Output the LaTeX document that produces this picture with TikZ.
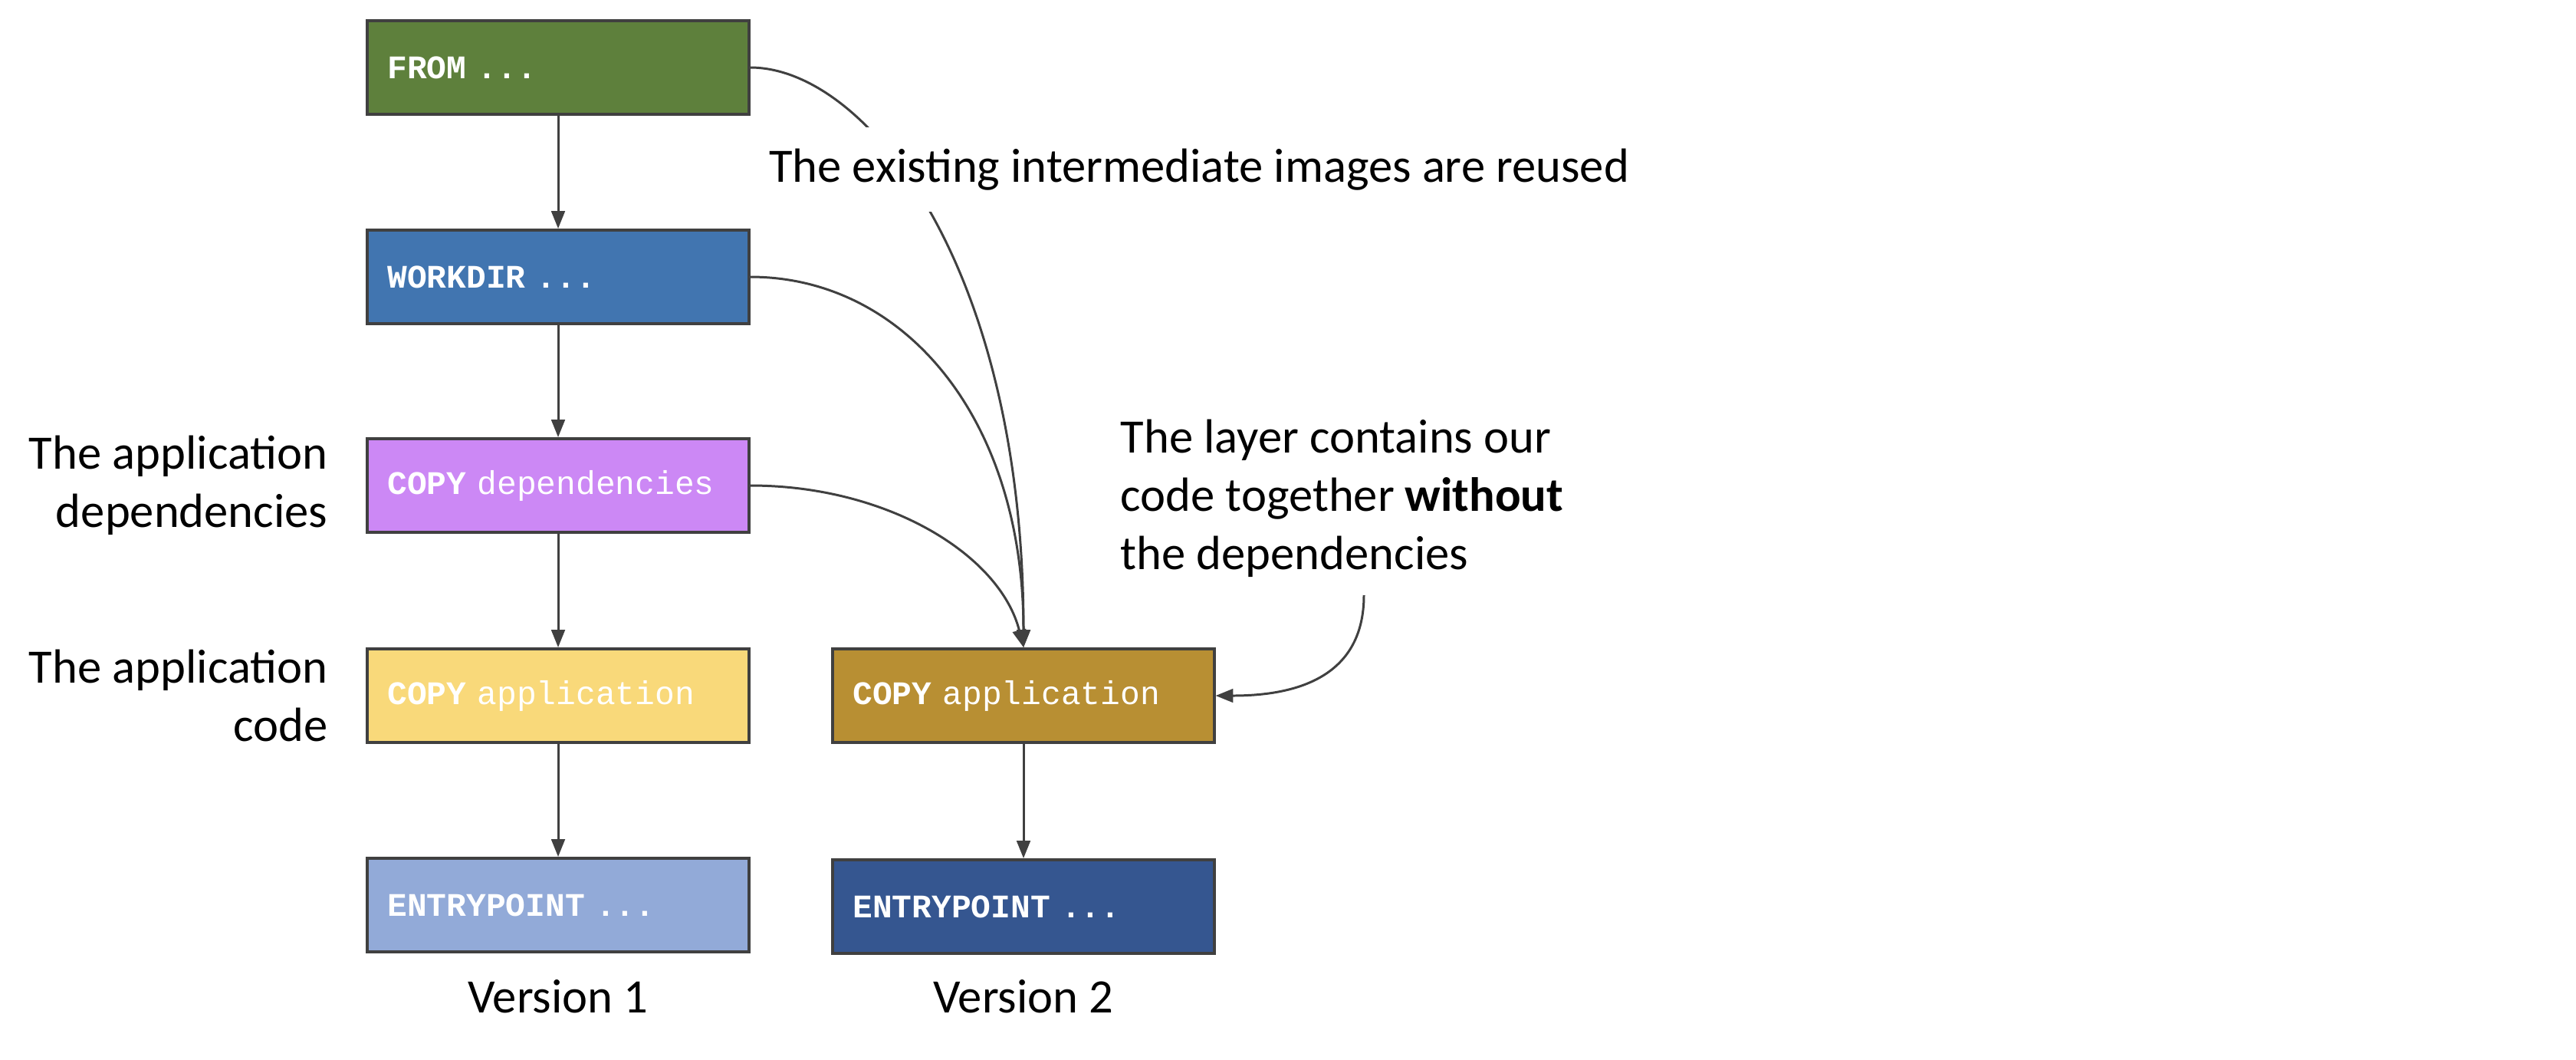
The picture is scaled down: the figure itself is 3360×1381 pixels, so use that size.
\documentclass[tikz,border=0pt]{standalone}
\usepackage{fontspec}
\setmainfont{Carlito}
\setmonofont{Liberation Mono}
\usetikzlibrary{arrows.meta}
\definecolor{linegray}{HTML}{404040}
\definecolor{cfrom}{HTML}{5E803C}
\definecolor{cwork}{HTML}{4175B0}
\definecolor{cdep}{HTML}{CC88F5}
\definecolor{capp}{HTML}{F9D97A}
\definecolor{centry}{HTML}{92AAD8}
\definecolor{capptwo}{HTML}{B88F33}
\definecolor{centrytwo}{HTML}{355690}
\tikzset{
  layerbox/.style={rectangle, draw=linegray, line width=1.1pt, text=white,
    font=\ttfamily\fontsize{12.2}{14}\selectfont, inner xsep=0.26cm, inner ysep=0pt,
    text width=4.45cm, minimum height=1.22cm, align=left},
  arr/.style={draw=linegray, line width=0.85pt, -{Triangle[length=6.5pt,width=5pt]}},
  lbl/.style={font=\fontsize{17.8}{21.6}\selectfont, text=black}
}
\begin{document}
\begin{tikzpicture}[x=0.01cm,y=-0.01cm]
\useasboundingbox (0,0) rectangle (3360,1381);
\node[layerbox, fill=cfrom] (from) at (728,88) {\textbf{FROM ...}};
\node[layerbox, fill=cwork] (work) at (728,361) {\textbf{WORKDIR ...}};
\node[layerbox, fill=cdep] (dep) at (728,633) {\textbf{COPY} dependencies};
\node[layerbox, fill=capp] (app1) at (728,907) {\textbf{COPY} application};
\node[layerbox, fill=centry] (entry1) at (728,1180) {\textbf{ENTRYPOINT ...}};
\node[layerbox, fill=capptwo] (app2) at (1335,907) {\textbf{COPY} application};
\node[layerbox, fill=centrytwo] (entry2) at (1335,1182) {\textbf{ENTRYPOINT ...}};

\draw[arr] (from) -- (work);
\draw[arr] (work) -- (dep);
\draw[arr] (dep) -- (app1);
\draw[arr] (app1) -- (entry1);
\draw[arr] (app2) -- (entry2);

\draw[arr] (from.east) .. controls +(150,0) and +(0,-500) .. (app2.north);
\draw[arr] (work.east) .. controls +(200,0) and +(0,-300) .. (app2.north);
\draw[arr] (dep.east) .. controls +(180,0) and +(-30,-120) .. (app2.north);

\node[lbl, fill=white, inner xsep=2pt, inner ysep=8pt] (reuse) at (1564,221) {The existing intermediate images are reused};

\node[lbl, anchor=east, align=right, inner sep=0pt] (ldep) at (428,633) {The application\\dependencies};
\node[lbl, anchor=east, align=right, inner sep=0pt] (lapp) at (428,907) {The application\\code};
\node[lbl, anchor=west, align=left, inner sep=0pt] (layer) at (1461,650) {The layer contains our\\code together \textbf{without}\\the dependencies};
\coordinate (lstart) at (1779,776);
\draw[arr] (lstart) .. controls +(0,110) and +(100,0) .. (app2.east);

\node[lbl] (v1) at (728,1299) {Version 1};
\node[lbl] (v2) at (1335,1299) {Version 2};
\end{tikzpicture}
\end{document}
